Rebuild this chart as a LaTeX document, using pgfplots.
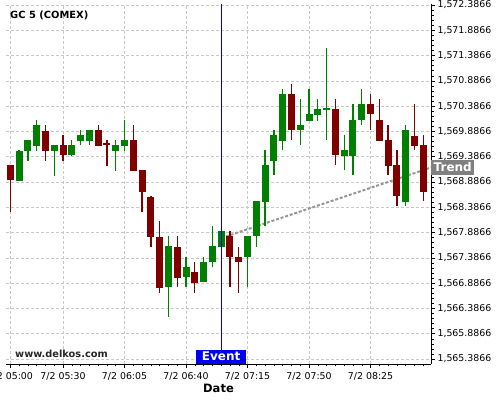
\documentclass[border=0pt]{standalone}
\usepackage{pgfplots}
\usepackage{pgfplotstable}
\pgfplotsset{compat=1.18}
\usepackage{fontspec}
\setmainfont{DejaVu Sans}
\definecolor{cgreen}{RGB}{0,128,0}
\definecolor{cred}{RGB}{128,0,0}
\definecolor{gridc}{RGB}{200,200,200}

% x = candle index (5 min from 7/2 05:00), o h l c
\pgfplotstableread{
x o h l c
1 1568.932 1569.519 1568.912 1569.519
2 1569.519 1569.717 1569.308 1569.717
3 1569.618 1570.113 1569.505 1570.014
5 1569.519 1569.618 1569.011 1569.618
7 1569.421 1569.717 1569.400 1569.618
8 1569.717 1569.915 1569.610 1569.816
9 1569.717 1569.915 1569.610 1569.915
12 1569.519 1569.717 1569.110 1569.618
13 1569.618 1570.113 1569.505 1569.717
18 1566.817 1567.819 1566.223 1567.621
20 1567.014 1567.404 1566.805 1567.206
22 1566.915 1567.404 1566.903 1567.305
23 1567.311 1568.017 1567.200 1567.621
24 1567.621 1567.918 1567.621 1567.918
27 1567.410 1567.819 1566.805 1567.819
28 1567.819 1568.511 1567.607 1568.511
29 1568.511 1569.519 1568.017 1569.223
30 1569.322 1569.915 1569.025 1569.816
31 1569.717 1570.726 1569.519 1570.627
33 1569.915 1570.528 1569.618 1570.014
34 1570.113 1570.726 1570.113 1570.231
35 1570.231 1570.528 1570.093 1570.330
36 1570.330 1571.537 1569.717 1570.350
38 1569.421 1569.816 1569.124 1569.519
39 1569.421 1570.429 1569.025 1570.113
40 1570.113 1570.726 1570.014 1570.429
45 1568.511 1570.014 1568.412 1569.915
}\greentab

\pgfplotstableread{
x o h l c
0 1569.223 1569.223 1568.299 1568.932
4 1569.915 1570.014 1569.308 1569.519
6 1569.618 1569.816 1569.308 1569.421
10 1569.915 1570.014 1569.610 1569.618
11 1569.652 1569.717 1569.209 1569.624
14 1569.717 1570.014 1569.110 1569.124
15 1569.124 1569.124 1568.299 1568.709
16 1568.610 1568.610 1567.607 1567.825
17 1567.819 1568.116 1566.698 1566.817
19 1567.621 1567.819 1566.805 1567.014
21 1567.107 1567.305 1566.698 1566.915
25 1567.819 1567.918 1566.805 1567.410
26 1567.410 1567.607 1566.698 1567.311
32 1570.627 1570.825 1569.717 1569.915
37 1570.330 1570.528 1569.223 1569.421
41 1570.429 1570.627 1569.915 1570.231
42 1570.113 1570.528 1569.717 1569.717
43 1569.717 1570.014 1569.025 1569.223
44 1569.223 1569.519 1568.412 1568.616
46 1569.816 1570.429 1569.519 1569.618
47 1569.618 1569.816 1568.511 1568.709
}\redtab

\begin{document}
\begin{tikzpicture}
\begin{axis}[
  scale only axis,
  width=425pt, height=360pt,
  xmin=-0.49, xmax=47.88,
  ymin=1565.2877, ymax=1572.4065,
  axis x line=bottom, axis y line=right,
  axis line style={-, black, line width=0.8pt},
  tick align=outside,
  major tick length=4pt, minor tick length=2.5pt,
  tick style={black, line width=0.5pt},
  xtick={0,6,13,20,27,34,41},
  xticklabels={7/2 05:00,7/2 05:30,7/2 06:05,7/2 06:40,7/2 07:15,7/2 07:50,7/2 08:25},
  minor xtick={1,2,3,4,5,7,8,9,10,11,12,14,15,16,17,18,19,21,22,23,24,25,26,28,29,30,31,32,33,35,36,37,38,39,40,42,43,44,45,46,47},
  ytick={1565.3866,1565.8866,1566.3866,1566.8866,1567.3866,1567.8866,1568.3866,1568.8866,1569.3866,1569.8866,1570.3866,1570.8866,1571.3866,1571.8866,1572.3866},
  yticklabels={{1,565.3866},{1,565.8866},{1,566.3866},{1,566.8866},{1,567.3866},{1,567.8866},{1,568.3866},{1,568.8866},{1,569.3866},{1,569.8866},{1,570.3866},{1,570.8866},{1,571.3866},{1,571.8866},{1,572.3866}},
  minor y tick num=4,
  ticklabel style={font=\fontsize{9.4}{10}\selectfont, black},
  xticklabel style={yshift=-1pt},
  yticklabel style={xshift=-1pt},
  grid=major,
  major grid style={gridc, dash pattern=on 3pt off 2pt, line width=0.6pt},
  xlabel={\textbf{Date}},
  xlabel style={font=\fontsize{11.5}{12}\selectfont, yshift=3pt},
  clip=false,
]
% trend
\addplot[color={rgb,255:red,150;green,150;blue,150}, line width=2pt, dash pattern=on 3pt off 1.8pt, mark=none]
  coordinates {(24.55,1567.809) (47.88,1569.173)};
% wicks
\addplot[draw=none, mark=none, error bars/.cd, y dir=plus, y explicit, error mark=none,
  error bar style={draw=cgreen, line width=1.3pt}]
  table[x=x, y=l, y error plus expr=\thisrow{h}-\thisrow{l}] {\greentab};
\addplot[draw=none, mark=none, error bars/.cd, y dir=plus, y explicit, error mark=none,
  error bar style={draw=cred, line width=1.3pt}]
  table[x=x, y=l, y error plus expr=\thisrow{h}-\thisrow{l}] {\redtab};
% bodies
\addplot[draw=none, mark=none, error bars/.cd, y dir=both, y explicit, error mark=none,
  error bar style={draw=cgreen, line width=7pt}]
  table[x=x, y expr=(\thisrow{o}+\thisrow{c})/2, y error expr=abs(\thisrow{c}-\thisrow{o})/2+0.005] {\greentab};
\addplot[draw=none, mark=none, error bars/.cd, y dir=both, y explicit, error mark=none,
  error bar style={draw=cred, line width=7pt}]
  table[x=x, y expr=(\thisrow{o}+\thisrow{c})/2, y error expr=abs(\thisrow{c}-\thisrow{o})/2+0.005] {\redtab};
% event line
\addplot[color={rgb,255:red,0;green,0;blue,220}, line width=0.9pt, mark=none]
  coordinates {(24,1565.2877) (24,1572.4065)};
\node[anchor=south, fill={rgb,255:red,0;green,0;blue,240}, text=white, inner xsep=6pt, inner ysep=2pt,
  font=\fontsize{12}{12}\bfseries\selectfont, text height=9pt, text depth=1pt] at (axis cs:24,1565.2877) {Event};
\node[anchor=west, fill={rgb,255:red,128;green,128;blue,128}, text=white, inner xsep=2.5pt, inner ysep=2.5pt,
  font=\fontsize{12}{12}\bfseries\selectfont, text height=9pt, text depth=1pt] at (axis cs:47.88,1569.173) {Trend};
\node[anchor=west, font=\fontsize{9.9}{10}\bfseries\selectfont, inner sep=0pt] at ([xshift=4pt,yshift=-11pt]rel axis cs:0,1) {GC 5 (COMEX)};
\node[anchor=west, font=\fontsize{9.8}{10}\bfseries\selectfont, inner sep=0pt, text=black!85] at ([xshift=9pt,yshift=10pt]rel axis cs:0,0) {www.delkos.com};
\end{axis}
\pgfresetboundingbox
\path[use as bounding box] ([shift={(-6pt,-36pt)}]current axis.south west) rectangle ([shift={(69pt,4pt)}]current axis.north east);
\end{tikzpicture}
\end{document}
